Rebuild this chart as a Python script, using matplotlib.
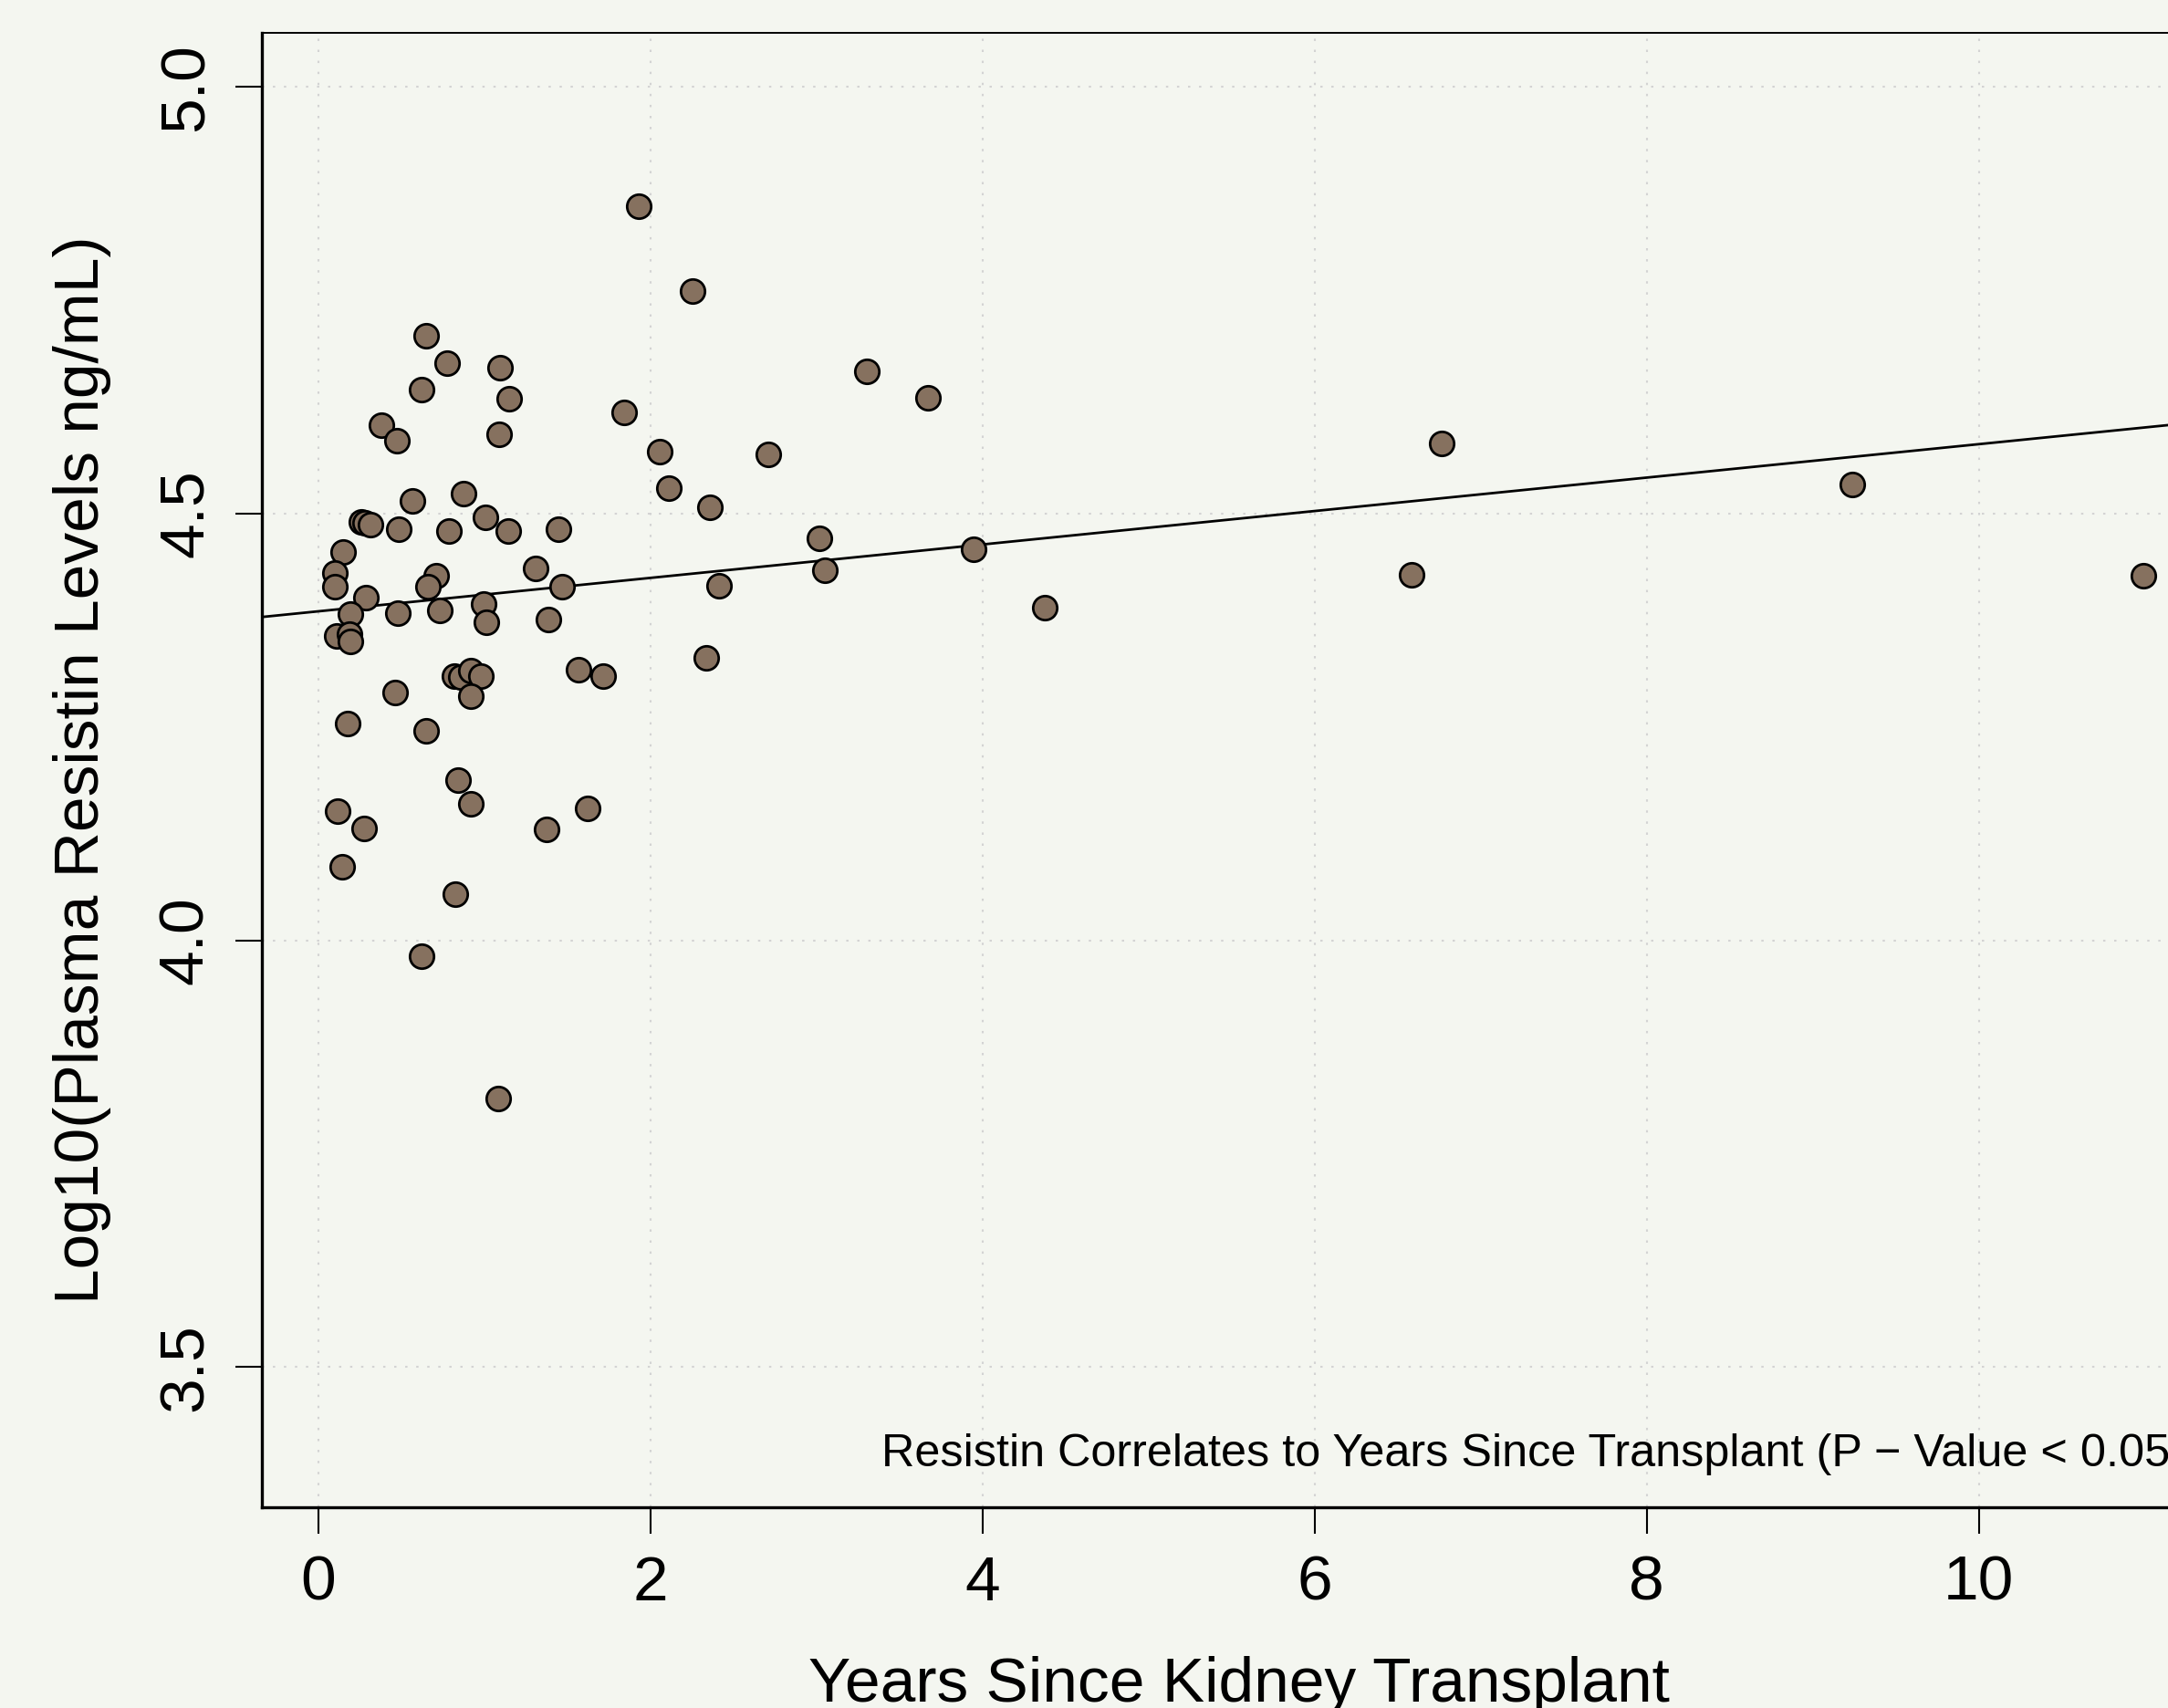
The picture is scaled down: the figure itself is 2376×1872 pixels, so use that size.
import matplotlib
matplotlib.use("Agg")
import matplotlib.pyplot as plt
import numpy as np

# values
years = [0.652, 0.776, 1.097, 1.152, 0.621, 0.382, 0.474, 1.088, 1.842, 2.054,
         2.110, 0.569, 0.874, 0.260, 0.279, 0.315, 0.484, 0.786, 1.009, 1.146,
         1.445, 0.148, 0.099, 0.099, 0.709, 0.661, 1.311, 1.470, 0.287, 0.194,
         0.480, 0.731, 0.996, 1.014, 1.384, 0.113, 0.187, 0.194, 0.822, 0.859,
         0.918, 0.978, 0.918, 1.565, 1.714, 0.465, 0.176, 0.648, 0.841, 0.918,
         0.117, 0.278, 1.375, 1.624, 0.145, 0.826, 0.621, 1.082,
         1.927, 2.251, 3.301, 3.671, 2.710, 2.360, 3.015, 3.946, 4.373, 3.051,
         2.415, 2.334,
         6.582, 6.765, 9.238, 10.992]
resistin = [4.709, 4.676, 4.671, 4.635, 4.645, 4.604, 4.586, 4.593, 4.619, 4.573,
            4.530, 4.515, 4.524, 4.490, 4.489, 4.487, 4.482, 4.480, 4.496, 4.480,
            4.482, 4.455, 4.431, 4.415, 4.427, 4.414, 4.436, 4.415, 4.402, 4.382,
            4.383, 4.387, 4.394, 4.373, 4.376, 4.357, 4.359, 4.350, 4.310, 4.309,
            4.316, 4.310, 4.286, 4.317, 4.310, 4.291, 4.254, 4.246, 4.188, 4.160,
            4.152, 4.131, 4.130, 4.155, 4.086, 4.054, 3.981, 3.815,
            4.860, 4.761, 4.667, 4.636, 4.570, 4.507, 4.471, 4.458, 4.390, 4.434,
            4.416, 4.331,
            4.428, 4.582, 4.534, 4.427]

x_ticks = [0, 2, 4, 6, 8, 10]
y_ticks = [3.5, 4.0, 4.5, 5.0]
note = "Resistin Correlates to Years Since Transplant (P \u2212 Value < 0.05)"

bg = "#F4F6F0"
plt.rcParams['font.family'] = ['Liberation Sans', 'DejaVu Sans']

fig = plt.figure(figsize=(23.76, 18.72), dpi=100, facecolor=bg)
# axes runs past the right edge of the figure, like the cropped original
ax = fig.add_axes([0.1207, 0.1177, 0.9016, 0.8632])
ax.set_facecolor(bg)

# dotted grid
for t in x_ticks:
    ax.axvline(t, color="#D3D3D3", lw=1.5, ls=(0, (1.2, 4.6)), zorder=0)
for t in y_ticks:
    ax.axhline(t, color="#D3D3D3", lw=1.5, ls=(0, (1.2, 4.6)), zorder=0)

# points
ax.scatter(years, resistin, s=360, facecolor="#86715F", edgecolor="black",
           linewidth=2.0, zorder=3)

# linear fit
slope, intercept = np.polyfit(years, resistin, 1)
ax.axline((0, intercept), slope=slope, color="black", lw=2, zorder=2)

ax.text(3.392, 3.3838, note, fontsize=36.3, ha="left", va="baseline")

ax.set_xlim(-0.341, 11.43)
ax.set_ylim(3.336, 5.0638)
ax.set_xticks(x_ticks)
ax.set_yticks(y_ticks)
ax.set_yticklabels(["3.5", "4.0", "4.5", "5.0"])
ax.tick_params(axis="both", direction="out", length=21, width=1.5,
               labelsize=50)
ax.tick_params(axis="x", pad=16.5)
ax.tick_params(axis="y", pad=15.4)
for lab in ax.get_yticklabels():
    lab.set_rotation(90)
    lab.set_va("center")

ax.set_xlabel("Years Since Kidney Transplant", fontsize=50, va="baseline")
ax.xaxis.set_label_coords(0.5, -0.132)
ax.set_ylabel("Log10(Plasma Resistin Levels ng/mL)", fontsize=50,
              va="baseline", rotation_mode="anchor")
ax.yaxis.set_label_coords(-0.0834, 0.5)

ax.spines["left"].set_linewidth(2.4)
ax.spines["bottom"].set_linewidth(2.4)
ax.spines["top"].set_linewidth(1.4)
ax.spines["right"].set_linewidth(1.4)

fig.savefig("out.png", dpi=100, facecolor=bg)
